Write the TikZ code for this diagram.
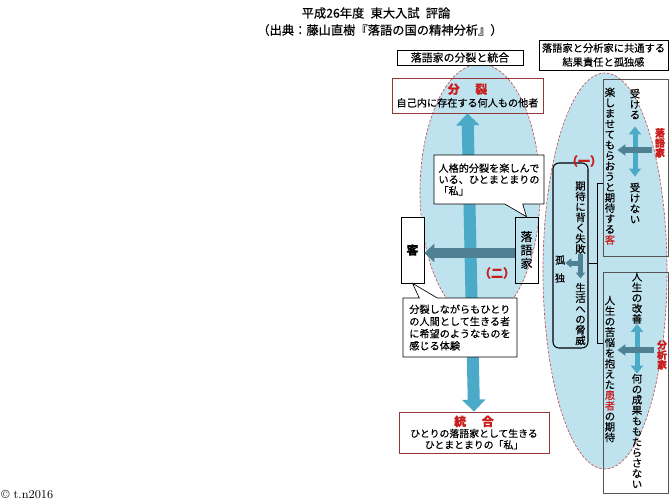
\documentclass[tikz,border=0pt]{standalone}
\usepackage{fontspec}
\newfontfamily\jp[FakeBold=0.4]{Noto Sans CJK JP}
\usetikzlibrary{arrows.meta,shapes.callouts}

\definecolor{ovalblue}{RGB}{190,226,238}
\definecolor{ovalred}{RGB}{196,84,84}
\definecolor{shaftblue}{RGB}{75,170,200}
\definecolor{shaftdark}{RGB}{80,128,148}
\definecolor{rakured}{RGB}{200,30,30}
\definecolor{boxred}{RGB}{150,55,55}
\definecolor{boxgray}{RGB}{85,85,85}

\tikzset{
  oval/.style={draw=ovalred, fill=ovalblue, line width=0.5pt, dash pattern=on 2pt off 1.2pt},
  plainbox/.style={draw, fill=white, line width=0.5pt, inner sep=1pt, align=center},
  redbox/.style={draw=boxred, line width=0.6pt, inner sep=1pt, align=center},
  sidebox/.style={draw=boxgray, line width=0.6pt, inner sep=0pt},
  talk/.style={rectangle callout, draw, fill=white, line width=0.5pt, inner sep=1pt, align=left, callout pointer width=13.5pt},
  tate/.style={inner sep=0pt, align=center, font={\jp\fontsize{7.8}{7.9}\selectfont\lineskiplimit=-20pt\relax}},
  tatered/.style={tate, text=rakured, font={\jp\bfseries\fontsize{7.5}{7.5}\selectfont\lineskiplimit=-20pt\relax}},
  kakko/.style={text=rakured, inner sep=0pt, font={\jp\bfseries\fontsize{9}{10}\selectfont}},
  bigblue/.style={draw=shaftblue, line width=9pt, arrows={Triangle[width=17.25pt,length=9pt]-Triangle[width=17.25pt,length=9pt]}},
  bigdark/.style={draw=shaftdark, line width=7.5pt, arrows={-Triangle[width=13.5pt,length=7.5pt]}},
  smallblue/.style={draw=shaftblue, line width=3.75pt, arrows={Triangle[width=9pt,length=6pt]-Triangle[width=9pt,length=6pt]}},
  smalldark/.style={draw=shaftdark, line width=4.5pt, arrows={-Triangle[width=8.25pt,length=6pt]}},
  tinydark/.style={draw=shaftdark, line width=3.75pt, arrows={-Triangle[width=6.75pt,length=4.5pt]}}
}

\begin{document}
\begin{tikzpicture}[x=0.75pt,y=0.75pt,yscale=-1,xscale=1]
\useasboundingbox (0,0) rectangle (672,504);

% ovals
\draw[oval] (480,192) ellipse [x radius=60, y radius=128];
\draw[oval] (605,271) ellipse [x radius=62, y radius=198];

% title
\node[font={\jp\fontsize{9.2}{11}\selectfont}] (title) at (376,13) {平成26年度\hspace{0.5em}東大入試\hspace{0.5em}評論};
\node[font={\jp\fontsize{9.2}{11}\selectfont}] (source) at (380,30) {（出典：藤山直樹『落語の国の精神分析』）};

% left part
\node[plainbox, minimum width=94.5pt, minimum height=11.25pt, font={\jp\fontsize{8.2}{9}\selectfont}] (theme) at (460,57.5) {落語家の分裂と統合};
\node[redbox, minimum width=113.25pt, minimum height=26.25pt, font={\jp\fontsize{7.6}{9.75}\selectfont}] (bunretsu) at (467.5,95.5)
  {{\fontsize{9}{9.75}\selectfont\bfseries\color{rakured}分\hspace{1.3em}裂}\\自己内に存在する何人もの他者};
\node[redbox, minimum width=112.5pt, minimum height=30.75pt, font={\jp\fontsize{7.4}{8.5}\selectfont}] (tougou) at (474,432.5)
  {{\fontsize{9}{10.5}\selectfont\bfseries\color{rakured}統\hspace{1.3em}合}\\ひとりの落語家として生きる\\ひとまとまりの「私」};
\node[plainbox, minimum width=17.25pt, minimum height=49.5pt, font={\jp\bfseries\fontsize{9}{10}\selectfont}] (kyaku) at (412.5,250) {客};
\node[draw, line width=0.5pt, minimum width=17.25pt, minimum height=49.5pt, inner sep=0pt, align=center,
  font={\jp\fontsize{9}{10}\selectfont\lineskiplimit=-20pt\relax}] (raku) at (526.5,250) {落\\語\\家};
\node[kakko] (ni) at (497,273) {（二）};

\draw[bigblue] (bunretsu.south) -- (tougou.north);
\draw[bigdark] ([yshift=2.25pt]raku.west) -- ([yshift=2.25pt]kyaku.east);

\node[talk, minimum width=82.5pt, minimum height=36.75pt, callout absolute pointer={(raku.north)},
  font={\jp\fontsize{7.6}{8.5}\selectfont}] (enjoy) at (489,179.5) {人格的分裂を楽しんで\\いる、ひとまとまりの\\「私」};
\node[talk, minimum width=85.5pt, minimum height=44.25pt, callout absolute pointer={(kyaku.south)},
  font={\jp\fontsize{7.6}{9.15}\selectfont}] (hope) at (460,327.5) {分裂しながらもひとり\\の人間として生きる者\\に希望のようなものを\\感じる体験};

% right part
\node[plainbox, minimum width=96.75pt, minimum height=22.5pt, font={\jp\fontsize{7.7}{10.5}\selectfont}] (common) at (603.5,55)
  {落語家と分析家に共通する\\結果責任と孤独感};
\node[sidebox, minimum width=48.75pt, minimum height=132.75pt] (rakuside) at (635.5,167.5) {};
\node[sidebox, minimum width=48.75pt, minimum height=165.75pt] (bunside) at (635.5,382.5) {};
\node[draw, line width=0.8pt, rounded corners=4.5pt, minimum width=26.25pt, minimum height=138.75pt] (failbox) at (570.5,255.5) {};

\node[tate] (kyakuR) at (610,166) {楽\\し\\ま\\せ\\て\\も\\ら\\お\\う\\と\\期\\待\\す\\る\\\textcolor{rakured}{客}};
\node[tate] (uke) at (635,104) {受\\け\\る};
\node[tate] (ukenai) at (635,203) {受\\け\\な\\い};
\node[tatered] (rakuR) at (660,143) {落\\語\\家};
\draw[smallblue, shorten <=5.25pt, shorten >=4.5pt] (uke.south) -- (ukenai.north);
\draw[smalldark, shorten <=2.25pt, shorten >=1.5pt] (rakuR.west |- 0,150) -- (kyakuR.east |- 0,150);

\node[tate] (kanja) at (610,369) {人\\生\\の\\苦\\悩\\を\\抱\\え\\た\\\textcolor{rakured}{患}\\\textcolor{rakured}{者}\\の\\期\\待};
\node[tate] (kaizen) at (637,298) {人\\生\\の\\改\\善};
\node[tate] (seika) at (637,431) {何\\の\\成\\果\\も\\も\\た\\ら\\さ\\な\\い};
\node[tatered] (bunseki) at (662,355) {分\\析\\家};
\draw[smallblue] (kaizen.south) -- (seika.north);
\draw[smalldark, shorten <=2.25pt, shorten >=1.5pt] (bunseki.west |- 0,350) -- (kanja.east |- 0,350);

\node[tate] (fail) at (580.5,217.5) {期\\待\\に\\背\\く\\失\\敗};
\node[tate] (threat) at (580.5,314) {生\\活\\へ\\の\\脅\\威};
\node[inner sep=0pt, align=center, font={\jp\fontsize{7.5}{13.5}\selectfont}] (kodoku) at (560,269) {孤\\独};
\node[kakko] (ichi) at (584,161) {（一）};
\draw[tinydark, shorten >=3pt] (fail.south) -- (threat.north);
\draw[tinydark] (fail.south |- 0,263) -- (kodoku.east |- 0,263);

% bracket
\draw[line width=0.6pt] (rakuside.west |- 0,183) -- (597,183) -- (597,343) -- (bunside.west |- 0,343);
\draw[line width=0.6pt] (597,263) -- (failbox.east |- 0,263);

\node[anchor=west, inner sep=0pt, font=\fontsize{9}{10}\selectfont] (copy) at (1,495) {© t.n2016};

\end{tikzpicture}
\end{document}
